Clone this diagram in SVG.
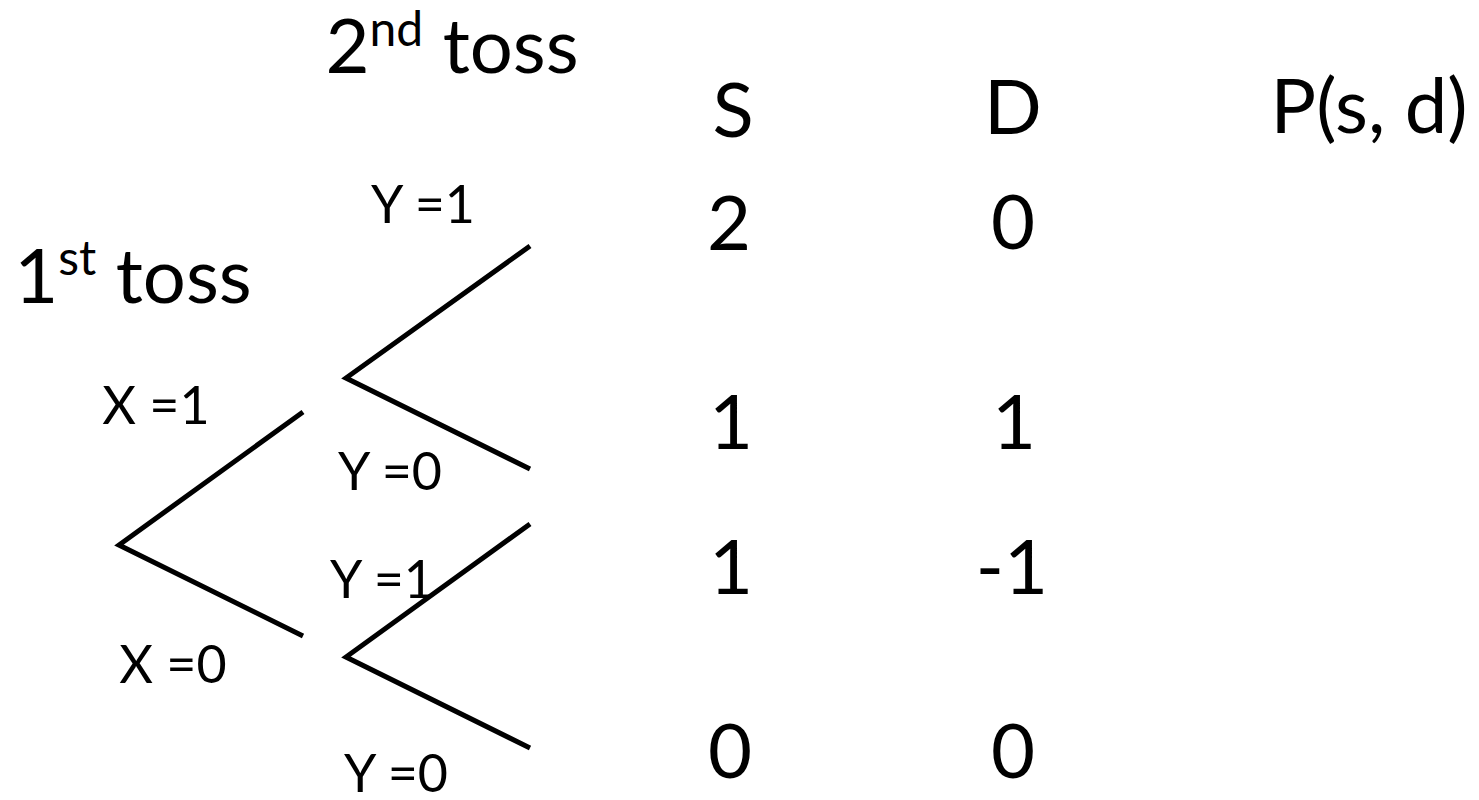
<svg xmlns="http://www.w3.org/2000/svg" width="1479" height="800" viewBox="0 0 1479 800">
<style>
  text { font-family: Lato, "Open Sans", "Liberation Sans", sans-serif; fill: #000; text-anchor: middle; }
  .big { font-size: 76px; }
  .sm { font-size: 52px; }
  .sup { font-size: 48px; }
  .br { stroke: #000; stroke-width: 5; fill: none; stroke-linejoin: miter; }
</style>
<rect width="1479" height="800" fill="#fff"/>
<g id="headers">
  <text class="big" x="452" y="73">2<tspan class="sup" dy="-27">nd</tspan><tspan dy="27"> toss</tspan></text>
  <text class="big" x="133" y="303">1<tspan class="sup" dy="-28">st</tspan><tspan dy="28"> toss</tspan></text>
  <text class="big" x="733" y="137">S</text>
  <text class="big" x="1013" y="134">D</text>
  <text class="big" x="1369" y="133">P(s, d)</text>
</g>
<g id="connectors">
  <polyline class="br" points="303,412 119,545 303,636"/>
  <polyline class="br" points="530,246 346,378 530,469"/>
  <polyline class="br" points="530,524 346,657 530,748"/>
</g>
<g id="branch-labels">
  <text class="sm" x="423" y="223">Y =1</text>
  <text class="sm" x="156" y="424">X =1</text>
  <text class="sm" x="390" y="490">Y =0</text>
  <text class="sm" x="382" y="598">Y =1</text>
  <text class="sm" x="173" y="683">X =0</text>
  <text class="sm" x="396" y="792">Y =0</text>
</g>
<g id="values">
  <text class="big" x="729" y="250">2</text>
  <text class="big" x="1013" y="249">0</text>
  <text class="big" x="731" y="449">1</text>
  <text class="big" x="1014" y="449">1</text>
  <text class="big" x="731" y="594">1</text>
  <text class="big" x="1012" y="594">-1</text>
  <text class="big" x="730" y="778">0</text>
  <text class="big" x="1013" y="778">0</text>
</g>
</svg>
